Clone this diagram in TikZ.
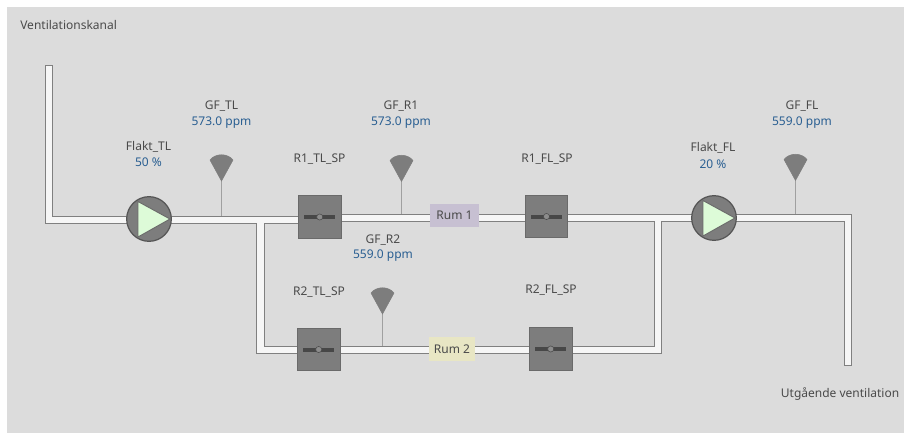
\documentclass[tikz,border=0pt]{standalone}
\usepackage{fontspec}
\setmainfont{Noto Sans}
\definecolor{bggray}{HTML}{DCDCDC}
\definecolor{pipeedge}{HTML}{808080}
\definecolor{pipefill}{HTML}{F6F6F6}
\definecolor{devgray}{HTML}{7D7D7D}
\definecolor{devedge}{HTML}{6A6A6A}
\definecolor{fanfill}{HTML}{DDFBD8}
\definecolor{txt}{HTML}{4A4A4A}
\definecolor{val}{HTML}{2A5F92}
\definecolor{rumA}{HTML}{C7C0D2}
\definecolor{rumB}{HTML}{E8E6C4}
\definecolor{stemgray}{HTML}{A0A0A0}
\pgfdeclarelayer{backdrop}
\pgfdeclarelayer{pipes}
\pgfsetlayers{backdrop,pipes,main}
\tikzset{
  x=0.75pt,y=-0.75pt,
  label text/.style={text=txt,font=\fontsize{9pt}{10pt}\selectfont,inner sep=0pt},
  value text/.style={text=val,font=\fontsize{9pt}{10pt}\selectfont,inner sep=0pt},
  valve/.style={draw=devedge,line width=0.75pt,fill=devgray,minimum size=32.2pt,inner sep=0pt,outer sep=0pt},
  fan/.style={circle,draw=devedge!80!black,line width=0.9pt,fill=devgray,minimum size=33.5pt,inner sep=0pt,outer sep=0pt},
  room/.style={text=txt,font=\fontsize{9pt}{10pt}\selectfont,inner sep=0pt,outer sep=0pt},
  handle/.style={draw=none,fill=black!72},
  hub/.style={circle,draw=devedge!70!black,fill=black!45,line width=0.4pt,minimum size=4.6pt,inner sep=0pt},
  stem/.style={draw=stemgray,line width=1.1pt},
  head/.style={fill=devgray,draw=devgray,line width=0.4pt,line join=round},
  pipeouter/.style={draw=pipeedge,line width=6.2pt,line join=miter,line cap=butt},
  pipeinner/.style={draw=pipefill,line width=4.8pt,line join=miter,line cap=butt},
}
\newcommand{\valvebar}[1]{%
  \fill[handle] ([xshift=-11.5pt,yshift=-1.5pt]#1.center) rectangle ([xshift=11.5pt,yshift=1.5pt]#1.center);
  \node[hub] at (#1.center) {};}
\newcommand{\fantri}[1]{%
  \draw[fill=fanfill,draw=devedge,line width=0.7pt,line join=round] ([shift={(-11,-17.5)}]#1.center) -- ([shift={(21,0)}]#1.center) -- ([shift={(-11,18)}]#1.center) -- cycle;}
\newcommand{\sensorhead}[1]{%
  \path[head,shift={(#1)}] (0,0) -- (-11.5,-21) .. controls (-6,-28) and (6,-28) .. (11.5,-21) -- cycle;}
\begin{document}
\begin{tikzpicture}
\useasboundingbox (0,0) rectangle (904,433);
\begin{pgfonlayer}{backdrop}
\fill[bggray] (7,7) rectangle (904,433);
\end{pgfonlayer}

% devices
\node[fan] (fanTL) at (149,219) {};
\node[fan] (fanFL) at (714,218) {};
\fantri{fanTL}
\fantri{fanFL}
\node[valve] (r1tl) at (319.7,217) {};
\node[valve] (r1fl) at (546.5,216.5) {};
\node[valve] (r2tl) at (318.7,349.5) {};
\node[valve] (r2fl) at (550.7,349) {};
\valvebar{r1tl}\valvebar{r1fl}\valvebar{r2tl}\valvebar{r2fl}
\node[room,fill=rumA,minimum width=36.8pt,minimum height=17.3pt] (rum1) at (454.5,215.7) {Rum 1};
\node[room,fill=rumB,minimum width=34.8pt,minimum height=18pt] (rum2) at (452,349) {Rum 2};

% free pipe points
\coordinate (inTop) at (49,65);
\coordinate (inCorner) at (49,220);
\coordinate (branchL) at (260.5,220);
\coordinate (branchLow) at (260.5,350);
\coordinate (branchR) at (658,218);
\coordinate (branchRLow) at (658,350);
\coordinate (outCorner) at (848,218);
\coordinate (outEnd) at (848,366);

% pipes
\begin{pgfonlayer}{pipes}
\draw[pipeouter] (inTop) -- (inCorner) -- (r1tl.center |- inCorner);
\draw[pipeouter] (r1tl.center |- fanFL.center) -- (fanFL.center);
\draw[pipeouter] (branchL) -- (branchLow) -- (branchRLow) -- (branchR);
\draw[pipeouter] (fanFL.center) -- (outCorner) -- (outEnd);
\draw[pipeinner,shorten <=0.8pt] (inTop) -- (inCorner) -- (r1tl.center |- inCorner);
\draw[pipeinner] (r1tl.center |- fanFL.center) -- (fanFL.center);
\draw[pipeinner] (branchL) -- (branchLow) -- (branchRLow) -- (branchR);
\draw[pipeinner,shorten >=0.8pt] (fanFL.center) -- (outCorner) -- (outEnd);
\end{pgfonlayer}

% sensors
\coordinate (sTL) at (221.5,181);
\coordinate (sR1) at (401.5,181.5);
\coordinate (sR2) at (382.5,314);
\coordinate (sFL) at (795.5,180.5);
\begin{pgfonlayer}{pipes}
\draw[stem] (sTL) -- (sTL |- 0,216);
\draw[stem] (sR1) -- (sR1 |- 0,214);
\draw[stem] (sR2) -- (sR2 |- 0,346);
\draw[stem] (sFL) -- (sFL |- 0,214);
\end{pgfonlayer}
\sensorhead{sTL}\sensorhead{sR1}\sensorhead{sR2}\sensorhead{sFL}

% texts
\node[label text,anchor=west] (tVent) at (20,25) {Ventilationskanal};
\node[label text,anchor=east] (tUt) at (899.5,394) {Utgående ventilation};
\node[label text] (tGFTL) at (221.5,106) {GF\_TL};
\node[value text] (vGFTL) at (221.5,123) {573.0 ppm};
\node[label text] (tFTL) at (148.5,147) {Flakt\_TL};
\node[value text] (vFTL) at (148.5,162) {50 \%};
\node[label text] (tGFR1) at (401,106) {GF\_R1};
\node[value text] (vGFR1) at (401,123) {573.0 ppm};
\node[label text] (tR1TL) at (319.5,159.5) {R1\_TL\_SP};
\node[label text] (tR1FL) at (547,159) {R1\_FL\_SP};
\node[label text] (tGFR2) at (383,240) {GF\_R2};
\node[value text] (vGFR2) at (383,256) {559.0 ppm};
\node[label text] (tR2TL) at (319,292) {R2\_TL\_SP};
\node[label text] (tR2FL) at (551,290) {R2\_FL\_SP};
\node[label text] (tFFL) at (713,147.5) {Flakt\_FL};
\node[value text] (vFFL) at (713,164) {20 \%};
\node[label text] (tGFFL) at (802,106) {GF\_FL};
\node[value text] (vGFFL) at (802,123) {559.0 ppm};
\end{tikzpicture}
\end{document}
